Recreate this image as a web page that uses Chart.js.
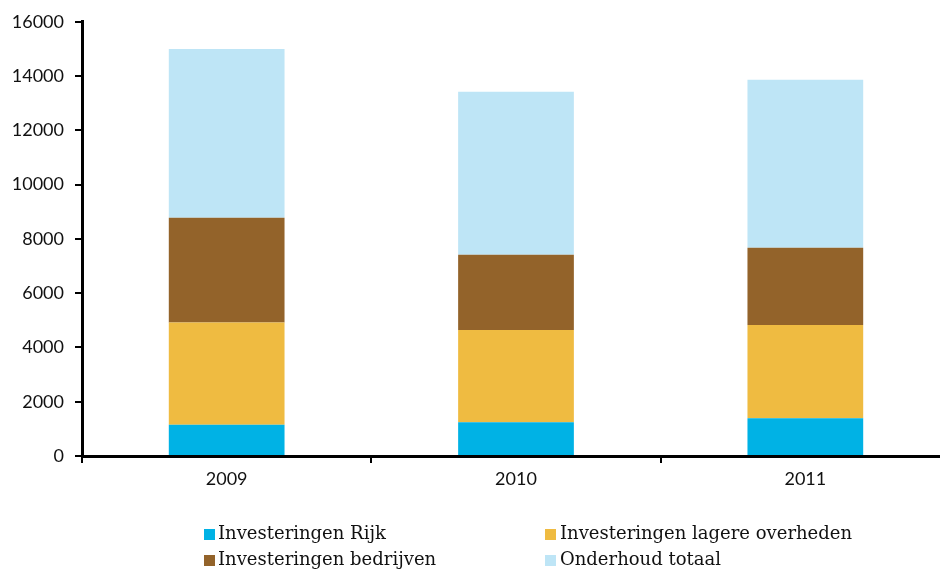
<!DOCTYPE html>
<html>
<head>
<meta charset="utf-8">
<script src="https://cdn.jsdelivr.net/npm/chart.js@4"></script>
<style>
  html, body { margin: 0; padding: 0; background: #fff; overflow: hidden; width: 940px; height: 570px; }
  #wrap { position: absolute; left: 0; top: 0; width: 950px; height: 500px; }
  #legend { position: absolute; left: 0; top: 0; width: 940px; height: 570px; pointer-events: none;
            font-family: "DejaVu Serif", serif; font-size: 18px; color: #111; }
  .item { position: absolute; white-space: nowrap; line-height: 20px; }
  .box { position: absolute; width: 11px; height: 11px; }
  .lbl { position: absolute; }
</style>
</head>
<body>
<div id="wrap"><canvas id="c" width="950" height="500"></canvas></div>
<div id="legend"></div>
<script>
const categories = ["2009", "2010", "2011"];
const seriesNames = ["Investeringen Rijk", "Investeringen lagere overheden", "Investeringen bedrijven", "Onderhoud totaal"];
const rijk = [1150, 1240, 1390];
const lagereOverheden = [3770, 3400, 3440];
const bedrijven = [3860, 2780, 2840];
const onderhoud = [6220, 6000, 6190];
const yTicks = [0, 2000, 4000, 6000, 8000, 10000, 12000, 14000, 16000];
const colors = ["#00b2e5", "#efbb41", "#93632a", "#bee5f6"];

const seriesValues = [rijk, lagereOverheden, bedrijven, onderhoud];

const datasets = seriesNames.map((name, i) => ({
  label: name,
  data: seriesValues[i],
  backgroundColor: colors[i],
  borderWidth: 0,
  barPercentage: 0.8,
  categoryPercentage: 0.5
}));

const chart = new Chart(document.getElementById('c'), {
  type: 'bar',
  data: { labels: categories, datasets },
  options: {
    responsive: false,
    animation: false,
    layout: { padding: { top: 21, right: 0, bottom: 0, left: 0 } },
    plugins: { legend: { display: false }, tooltip: { enabled: false } },
    scales: {
      x: {
        stacked: true,
        grid: { display: true, drawOnChartArea: false, drawTicks: true, tickLength: 7, color: '#000', lineWidth: 2, offset: true },
        border: { display: true, color: '#000', width: 3 },
        ticks: { color: '#111', font: { family: 'Lato', size: 18 }, padding: 5 },
        afterFit: (s) => { s.height = 44; }
      },
      y: {
        stacked: true,
        min: 0, max: 16000,
        afterBuildTicks: (s) => { s.ticks = yTicks.map(v => ({ value: v })); },
        grid: { display: true, drawOnChartArea: false, drawTicks: true, tickLength: 7, color: '#000', lineWidth: 2 },
        border: { display: true, color: '#000', width: 3 },
        ticks: { color: '#111', font: { family: 'Lato', size: 18 }, padding: 11, callback: (v) => String(v) },
        afterFit: (s) => { s.width = 82; }
      }
    }
  }
});

// legend in two columns, built from the dataset names/colours
const legendPos = [[204, 523], [545, 523], [204, 549], [545, 549]];
const lg = document.getElementById('legend');
seriesNames.forEach((name, i) => {
  const it = document.createElement('div');
  it.className = 'item';
  it.style.left = legendPos[i][0] + 'px';
  it.style.top = legendPos[i][1] + 'px';
  const b = document.createElement('div');
  b.className = 'box';
  b.style.background = colors[i];
  b.style.left = '0px'; b.style.top = '6px';
  const t = document.createElement('div');
  t.className = 'lbl';
  t.style.left = (i % 2 === 0 ? 14 : 15) + 'px';
  t.style.top = '0px';
  t.textContent = name;
  it.appendChild(b); it.appendChild(t);
  lg.appendChild(it);
});
</script>
</body>
</html>
